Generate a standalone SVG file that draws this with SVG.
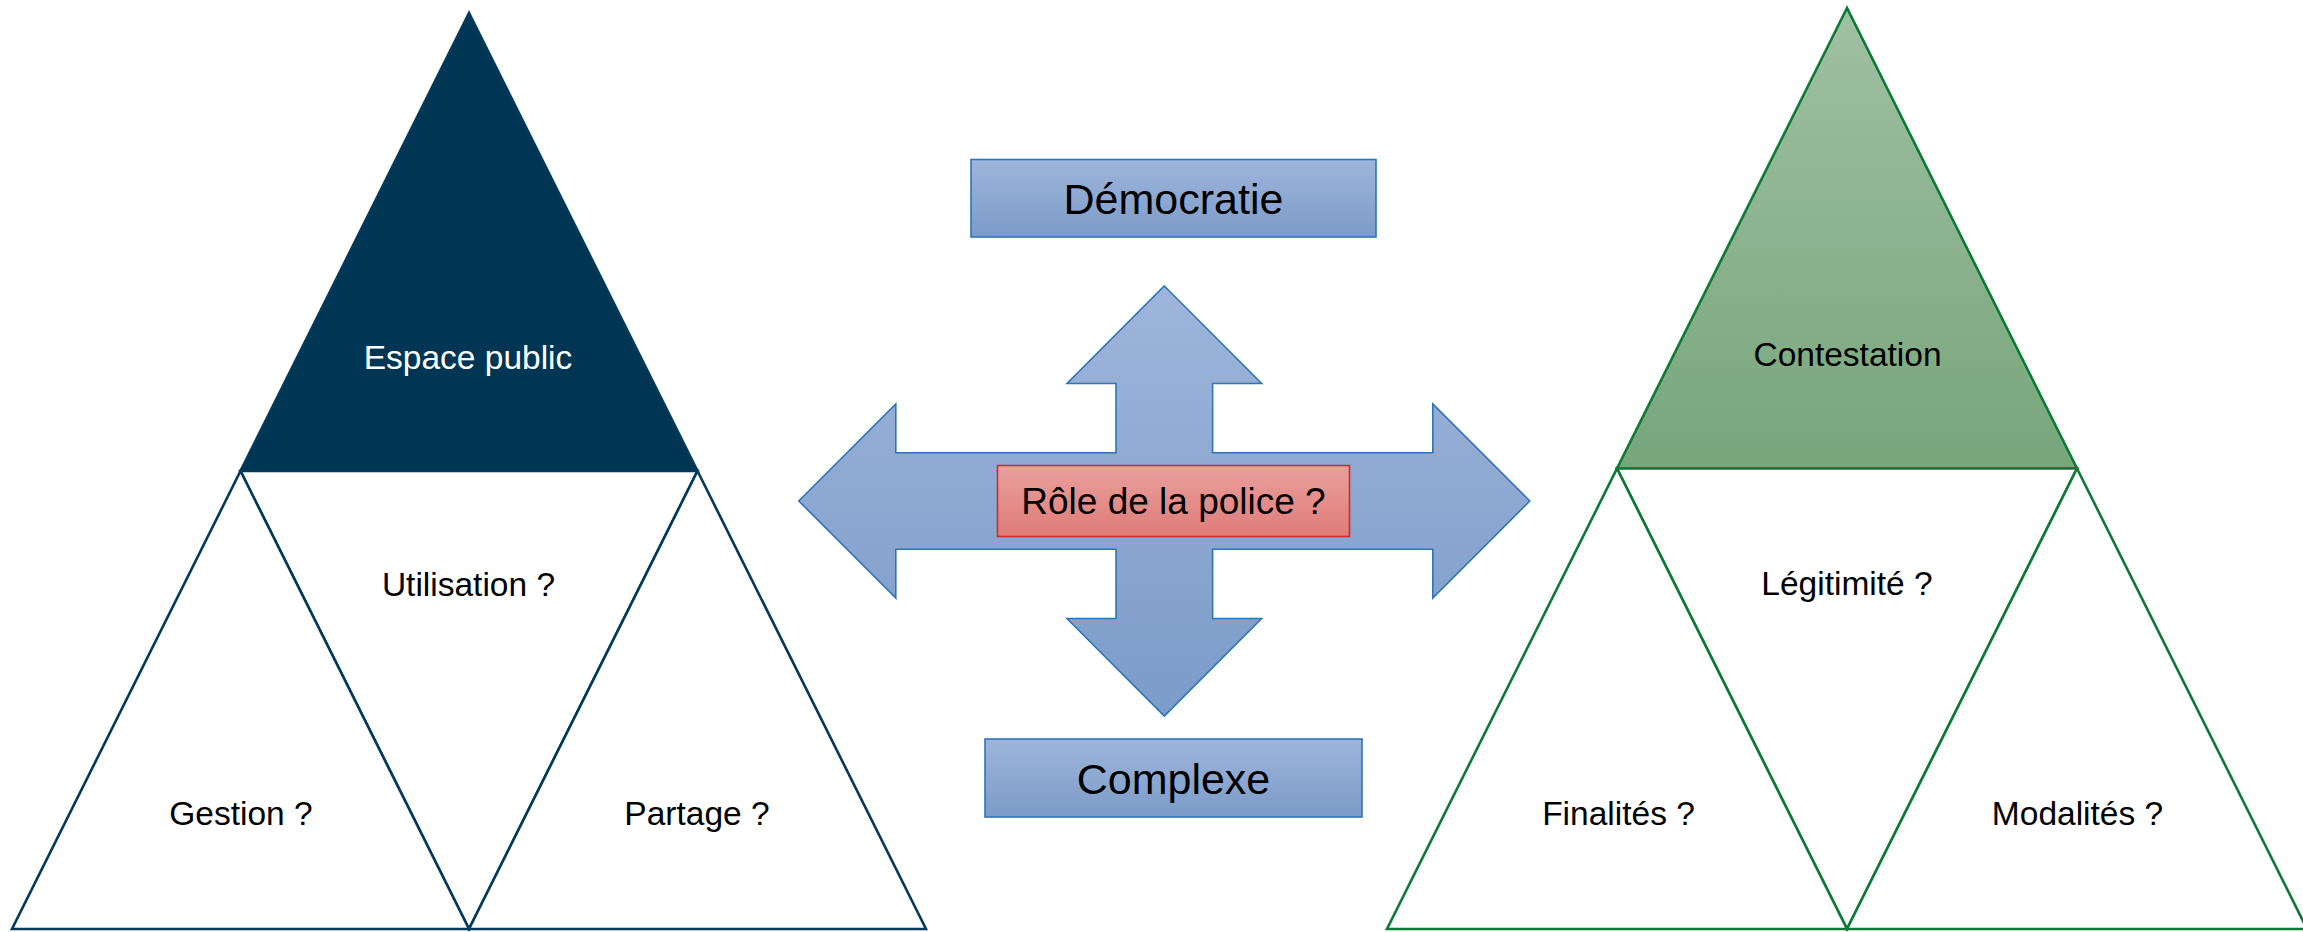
<svg xmlns="http://www.w3.org/2000/svg" width="2303" height="932" viewBox="0 0 2303 932">
<defs>
<linearGradient id="gBlue" x1="0" y1="0" x2="0" y2="1">
<stop offset="0" stop-color="#9FB5DA"/>
<stop offset="1" stop-color="#7B9BC9"/>
</linearGradient>
<linearGradient id="gRed" x1="0" y1="0" x2="0" y2="1">
<stop offset="0" stop-color="#E9A09D"/>
<stop offset="1" stop-color="#E07B78"/>
</linearGradient>
<linearGradient id="gGreen" gradientUnits="userSpaceOnUse" x1="0" y1="8" x2="0" y2="469">
<stop offset="0" stop-color="#A0C0A2"/>
<stop offset="1" stop-color="#77A67B"/>
</linearGradient>
<style>
.lbl{font-family:"Liberation Sans",Arial,sans-serif;font-size:33.5px;fill:#000;text-anchor:middle}
.big{font-family:"Liberation Sans",Arial,sans-serif;font-size:43px;fill:#000;text-anchor:middle}
.navy{stroke:#03395A;stroke-width:2.6;stroke-linejoin:miter}
.grn{stroke:#0A7A34;stroke-width:2.6;stroke-linejoin:miter}
.box{fill:url(#gBlue);stroke:#2E75B6;stroke-width:1.6}
</style>
</defs>
<rect width="2303" height="932" fill="#FFFFFF"/>

<g id="left-pyramid">
<g id="espace-public">
<polygon class="navy" points="469,13 240.5,471 697.5,471" fill="#003654"/>
<text class="lbl" x="468" y="369" style="fill:#FFFFFF">Espace public</text>
</g>
<g id="utilisation">
<polygon class="navy" points="240.5,471 697.5,471 469,929" fill="#FFFFFF"/>
<text class="lbl" x="468.5" y="596">Utilisation ?</text>
</g>
<g id="gestion">
<polygon class="navy" points="240.5,471 469,929 12,929" fill="#FFFFFF"/>
<text class="lbl" x="241" y="825">Gestion ?</text>
</g>
<g id="partage">
<polygon class="navy" points="697.5,471 926,929 469,929" fill="#FFFFFF"/>
<text class="lbl" x="697" y="825">Partage ?</text>
</g>
</g>

<g id="right-pyramid">
<g id="contestation">
<polygon class="grn" points="1847,8 1617,468.5 2077,468.5" fill="url(#gGreen)"/>
<text class="lbl" x="1847.5" y="366">Contestation</text>
</g>
<g id="legitimite">
<polygon class="grn" points="1617,468.5 2077,468.5 1847,929" fill="#FFFFFF"/>
<text class="lbl" x="1847" y="595">Légitimité ?</text>
</g>
<g id="finalites">
<polygon class="grn" points="1617,468.5 1847,929 1387,929" fill="#FFFFFF"/>
<text class="lbl" x="1618.5" y="825">Finalités ?</text>
</g>
<g id="modalites">
<polygon class="grn" points="2077,468.5 2307,929 1847,929" fill="#FFFFFF"/>
<text class="lbl" x="2077.5" y="825">Modalités ?</text>
</g>
</g>

<g id="connectors">
<polygon id="cross-arrow" points="1164.3,286 1261.6,383.5 1212.6,383.5 1212.6,452.7 1432.8,452.7 1432.8,404 1529.8,501 1432.8,598 1432.8,549.3 1212.6,549.3 1212.6,618.5 1261.6,618.5 1164.3,716 1067,618.5 1116,618.5 1116,549.3 895.8,549.3 895.8,598 798.8,501 895.8,404 895.8,452.7 1116,452.7 1116,383.5 1067,383.5" fill="url(#gBlue)" stroke="#2E75B6" stroke-width="1.6"/>
</g>

<g id="democratie">
<rect class="box" x="971" y="159.5" width="405" height="77.5"/>
<text class="big" x="1173.5" y="213.5">Démocratie</text>
</g>

<g id="complexe">
<rect class="box" x="985" y="739" width="377" height="78"/>
<text class="big" x="1173.5" y="794">Complexe</text>
</g>

<g id="role-police">
<rect x="997.5" y="465.5" width="352" height="71" fill="url(#gRed)" stroke="#C9302C" stroke-width="1.6"/>
<text class="lbl" x="1173.5" y="514" style="font-size:37px">Rôle de la police ?</text>
</g>
</svg>
